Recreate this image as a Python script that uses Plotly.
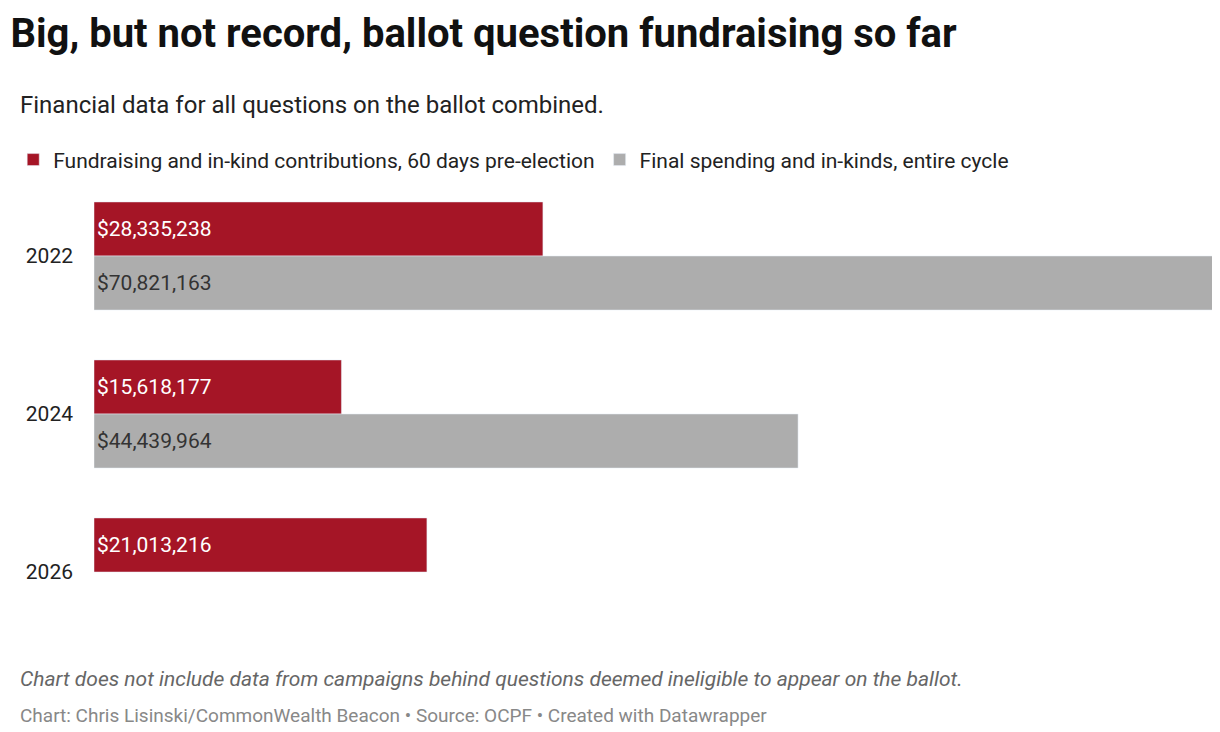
import plotly.graph_objects as go

years = ["2022", "2024", "2026"]
fundraising = [28335238, 15618177, 21013216]
final_spending = [70821163, 44439964, None]

def money(v):
    return "" if v is None else f"${v:,.0f}"

fig = go.Figure()
fig.add_trace(go.Bar(
    y=years, x=fundraising, orientation="h",
    name="Fundraising and in-kind contributions, 60 days pre-election",
    marker_color="#a51526",
    text=[money(v) for v in fundraising], textposition="inside",
    insidetextanchor="start", textfont=dict(color="white", size=21),
))
fig.add_trace(go.Bar(
    y=years, x=final_spending, orientation="h",
    name="Final spending and in-kinds, entire cycle",
    marker_color="#adadad",
    text=[money(v) for v in final_spending], textposition="inside",
    insidetextanchor="start", textfont=dict(color="#333333", size=21),
))

fig.update_layout(
    width=1220, height=732,
    barmode="group", bargap=0.316, bargroupgap=0,
    paper_bgcolor="white", plot_bgcolor="white",
    font=dict(family="Roboto", size=21, color="#222222"),
    margin=dict(l=86, r=12, t=169, b=89, autoexpand=False),
    title=dict(text="<b>Big, but not record, ballot question fundraising so far</b>",
               x=0.002, xanchor="left", y=0.985, yanchor="top",
               font=dict(size=40, color="#111111")),
    legend=dict(orientation="h", x=-0.072, xanchor="left", y=1.036, yanchor="middle",
                font=dict(size=21), traceorder="normal"),
    xaxis=dict(range=[0, 70821163], visible=False, fixedrange=True),
    yaxis=dict(autorange="reversed", showgrid=False, ticks="", ticklabelstandoff=20,
               automargin=False, tickfont=dict(size=21, color="#222222")),
    uniformtext=dict(minsize=10, mode="show"),
)

fig.add_annotation(text="Financial data for all questions on the ballot combined.",
                   xref="paper", yref="paper", x=-0.068, y=1.152, xanchor="left",
                   yanchor="middle", showarrow=False, font=dict(size=24, color="#222222"))
fig.add_annotation(text="<i>Chart does not include data from campaigns behind questions deemed ineligible to appear on the ballot.</i>",
                   xref="paper", yref="paper", x=-0.068, y=-0.059, xanchor="left",
                   yanchor="middle", showarrow=False, font=dict(size=21, color="#666666"))
fig.add_annotation(text="Chart: Chris Lisinski/CommonWealth Beacon • Source: OCPF • Created with Datawrapper",
                   xref="paper", yref="paper", x=-0.068, y=-0.137, xanchor="left",
                   yanchor="middle", showarrow=False, font=dict(size=19, color="#888888"))

fig.write_html("out.html")
